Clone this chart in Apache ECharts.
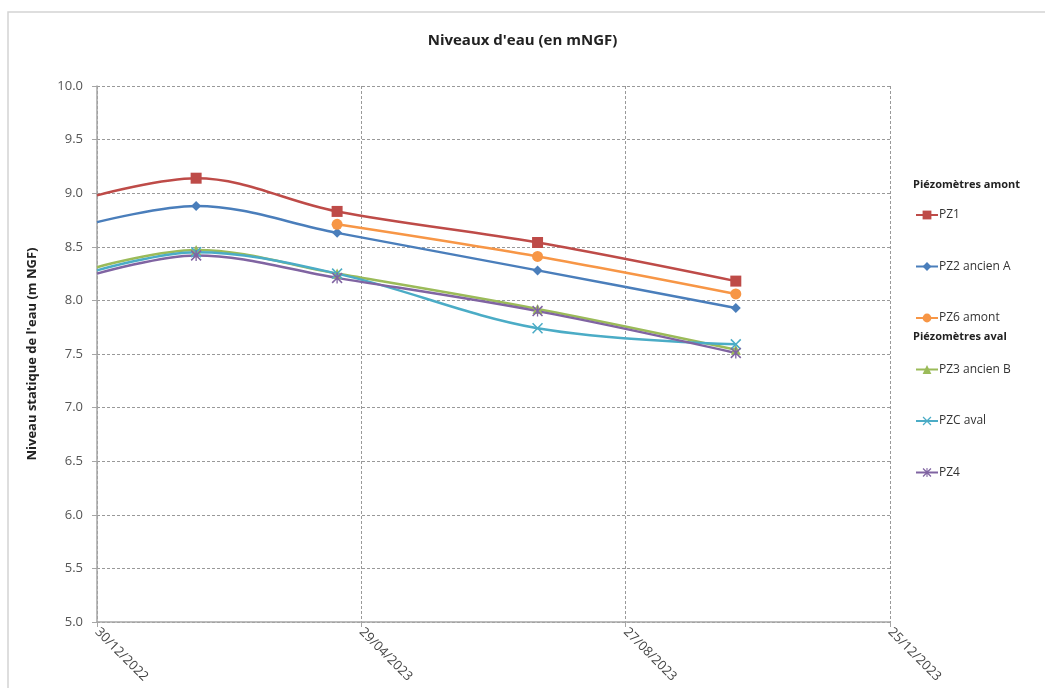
<!DOCTYPE html>
<html>
<head>
<meta charset="utf-8">
<script src="https://cdn.jsdelivr.net/npm/echarts@6/dist/echarts.min.js"></script>
<style>html,body{margin:0;padding:0;background:#fff}#c{width:1045px;height:688px}</style>
</head>
<body>
<div id="c"></div>
<script>
const startDate = '2022-12-30';
const dates = ['2022-12-30', '2023-02-13', '2023-04-18', '2023-07-18', '2023-10-16'];
const tickDays = [0, 120, 240, 360];
const PZ1 = [8.98, 9.14, 8.83, 8.54, 8.18];
const PZ2 = [8.73, 8.88, 8.63, 8.28, 7.93];
const PZ6 = [null, null, 8.71, 8.41, 8.06];
const PZ3 = [8.31, 8.47, 8.25, 7.92, 7.54];
const PZC = [8.28, 8.45, 8.25, 7.74, 7.59];
const PZ4 = [8.25, 8.42, 8.21, 7.90, 7.51];

const DAY = 86400000;
const t0 = Date.UTC(2022, 11, 30);
function dayOf(s) { const p = s.split('-').map(Number); return Math.round((Date.UTC(p[0], p[1]-1, p[2]) - t0) / DAY); }
function fmt(d) { const dt = new Date(t0 + d * DAY); const dd = String(dt.getUTCDate()).padStart(2,'0'); const mm = String(dt.getUTCMonth()+1).padStart(2,'0'); return dd + '/' + mm + '/' + dt.getUTCFullYear(); }

const X_SHAPE = 'path://M0,1 L1,0 L5,4 L9,0 L10,1 L6,5 L10,9 L9,10 L5,6 L1,10 L0,9 L4,5 Z';
const STAR_SHAPE = 'path://M0,1 L1,0 L5,4 L9,0 L10,1 L6,5 L10,9 L9,10 L5,6 L1,10 L0,9 L4,5 Z M4.4,0 L5.6,0 L5.6,10 L4.4,10 Z';

function mk(name, vals, color, symbol, size) {
  const data = [];
  vals.forEach((v, i) => {
    if (v === null) return;
    const pt = { value: [dayOf(dates[i]), v] };
    if (i === 0) pt.symbol = 'none';
    data.push(pt);
  });
  return {
    name, type: 'line', data, smooth: 0.35, symbol, symbolSize: size,
    lineStyle: { color, width: 2.5 }, itemStyle: { color }, color,
    showAllSymbol: true, z: 3
  };
}

const font = 'Open Sans, Liberation Sans, sans-serif';
const chart = echarts.init(document.getElementById('c'));
chart.setOption({
  animation: false,
  backgroundColor: '#fff',
  title: { text: "Niveaux d'eau (en mNGF)", left: 'center', top: 28, textStyle: { fontFamily: font, fontSize: 15, fontWeight: 'bold', color: '#222' }, },
  grid: { left: 97, right: 155, top: 86, bottom: 66 },
  graphic: [
    { type: 'rect', shape: { x: 8, y: 12, width: 1060, height: 700 }, style: { fill: 'none', stroke: '#d4d4d4', lineWidth: 1.5 }, silent: true },
    { type: 'text', left: 913, top: 179, style: { text: 'Piézomètres amont', font: 'bold 11px ' + font, fill: '#222' } },
    { type: 'text', left: 913, top: 331, style: { text: 'Piézomètres aval', font: 'bold 11px ' + font, fill: '#222' } }
  ],
  legend: {
    orient: 'vertical', left: 910, top: 204, itemWidth: 22, itemHeight: 11, itemGap: 39.5,
    textStyle: { fontFamily: font, fontSize: 12, color: '#333', padding: [0, 0, 0, -4] },
    data: ['PZ1', 'PZ2 ancien A', 'PZ6 amont', 'PZ3 ancien B', 'PZC aval', 'PZ4']
  },
  xAxis: {
    type: 'value', min: 0, max: 360, interval: 120,
    axisLine: { show: true, lineStyle: { color: '#a6a6a6', width: 1.5 } },
    axisTick: { show: true, length: 5, lineStyle: { color: '#a6a6a6' } },
    splitLine: { show: true, lineStyle: { type: [3, 2], color: '#999' } },
    axisLabel: { rotate: -45, formatter: v => fmt(v), fontFamily: font, fontSize: 13, color: '#444', margin: 8 }
  },
  yAxis: {
    type: 'value', min: 5, max: 10, interval: 0.5,
    name: "Niveau statique de l'eau (m NGF)", nameLocation: 'middle', nameGap: 58,
    nameTextStyle: { fontFamily: font, fontSize: 13, fontWeight: 'bold', color: '#222' },
    axisLine: { show: true, lineStyle: { color: '#a6a6a6', width: 1.5 } },
    axisTick: { show: true, length: 5, lineStyle: { color: '#a6a6a6' } },
    splitLine: { show: true, lineStyle: { type: [3, 2], color: '#999' } },
    axisLabel: { formatter: v => v.toFixed(1), fontFamily: font, fontSize: 13, color: '#555', margin: 14 }
  },
  series: [
    mk('PZ1', PZ1, '#BE4B48', 'rect', 11),
    mk('PZ2 ancien A', PZ2, '#4A7EBB', 'diamond', 10),
    mk('PZ6 amont', PZ6, '#F79646', 'circle', 11),
    mk('PZ3 ancien B', PZ3, '#9BBB59', 'triangle', 10),
    mk('PZC aval', PZC, '#4BACC6', X_SHAPE, 11),
    mk('PZ4', PZ4, '#8064A2', STAR_SHAPE, 11)
  ]
});
</script>
</body>
</html>
